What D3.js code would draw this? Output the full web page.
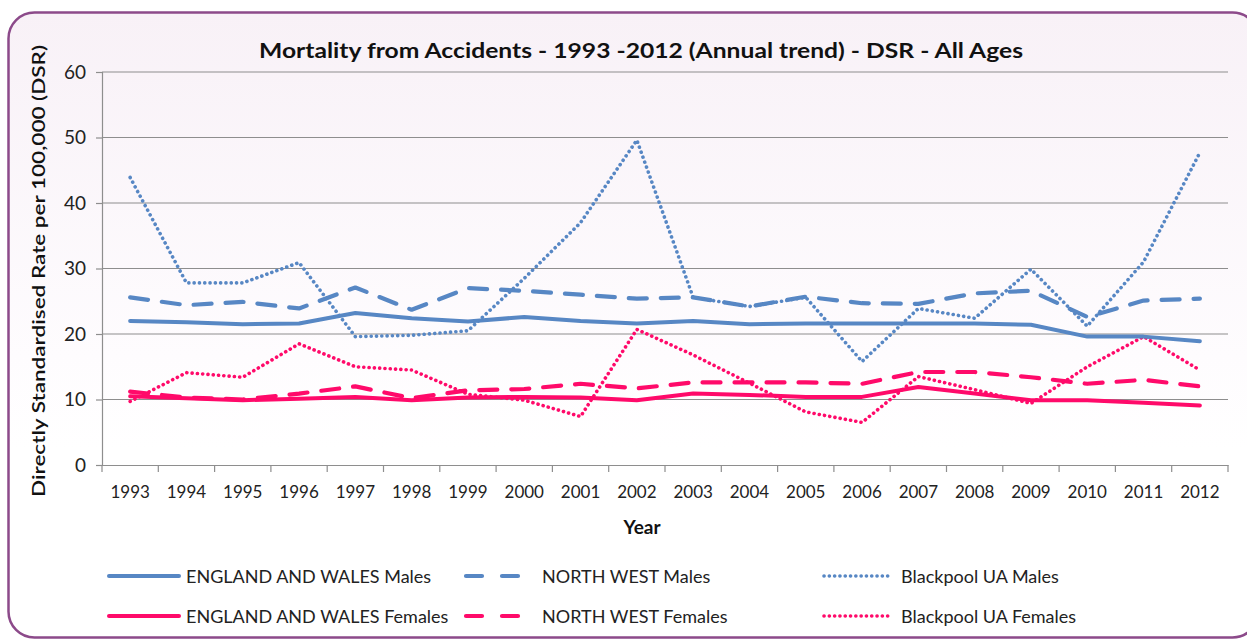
<!DOCTYPE html>
<html><head><meta charset="utf-8">
<script src="https://cdn.jsdelivr.net/npm/d3@7"></script>
<style>html,body{margin:0;padding:0;background:#fff;}svg{display:block;font-family:Lato,"Open Sans",sans-serif;}</style>
</head><body>
<svg id="c" width="1247" height="641"></svg>
<script>
const years = ["1993","1994","1995","1996","1997","1998","1999","2000","2001","2002","2003","2004","2005","2006","2007","2008","2009","2010","2011","2012"];
const ewMales   = [22.0,21.8,21.5,21.6,23.2,22.4,21.9,22.6,22.0,21.6,22.0,21.5,21.6,21.6,21.6,21.6,21.4,19.6,19.6,18.9];
const nwMales   = [25.6,24.4,24.9,23.9,27.1,23.7,27.0,26.6,26.0,25.4,25.6,24.2,25.7,24.7,24.6,26.2,26.6,22.6,25.1,25.4];
const bpMales   = [43.9,27.8,27.8,30.9,19.6,19.8,20.5,28.5,37.0,49.6,25.6,24.2,25.6,15.8,23.9,22.4,29.9,21.2,31.0,47.7];
const ewFemales = [10.5,10.2,9.9,10.1,10.4,9.9,10.3,10.4,10.3,9.9,10.9,10.7,10.4,10.4,11.9,10.9,9.9,9.9,9.5,9.1];
const nwFemales = [11.2,10.3,10.0,10.9,12.0,10.2,11.4,11.6,12.4,11.7,12.6,12.6,12.6,12.4,14.2,14.2,13.4,12.4,13.0,12.0];
const bpFemales = [9.7,14.1,13.4,18.5,15.0,14.5,10.8,9.9,7.4,20.7,16.8,12.5,8.1,6.5,13.5,11.5,9.4,15.0,19.6,14.5];
const yTicks = [0,10,20,30,40,50,60];
const seriesNames = ["ENGLAND AND WALES Males","NORTH WEST Males","Blackpool UA Males","ENGLAND AND WALES Females","NORTH WEST Females","Blackpool UA Females"];

const BLUE = "#5787c4", PINK = "#ff0a6a";
const styles = {
  solid:  {w:4,   dash:null,     cap:"round"},
  dashed: {w:4.2, dash:"18 14",  cap:"round"},
  dotted: {w:3.6, dash:"0.1 5.2",cap:"round"}
};
const series = [
  {name:seriesNames[0], vals:ewMales,   color:BLUE, st:"solid"},
  {name:seriesNames[1], vals:nwMales,   color:BLUE, st:"dashed"},
  {name:seriesNames[2], vals:bpMales,   color:BLUE, st:"dotted"},
  {name:seriesNames[3], vals:ewFemales, color:PINK, st:"solid"},
  {name:seriesNames[4], vals:nwFemales, color:PINK, st:"dashed"},
  {name:seriesNames[5], vals:bpFemales, color:PINK, st:"dotted"}
];

const svg = d3.select("#c");
const defs = svg.append("defs");
const g1 = defs.append("linearGradient").attr("id","bg").attr("x1",0).attr("y1",0).attr("x2",0).attr("y2",1);
g1.append("stop").attr("offset","0%").attr("stop-color","#f8f1f7");
g1.append("stop").attr("offset","55%").attr("stop-color","#fefcfe");
g1.append("stop").attr("offset","70%").attr("stop-color","#ffffff");

svg.append("rect").attr("x",8.5).attr("y",12.5).attr("width",1250).attr("height",625)
  .attr("rx",26).attr("ry",26).attr("fill","url(#bg)").attr("stroke","#8c4a8a").attr("stroke-width",2.5);

const L=102, R=1228, T=72, B=465;
const x = d3.scaleBand().domain(years).range([L,R]);
const y = d3.scaleLinear().domain([0,60]).range([B,T]);

// gridlines
svg.append("g").selectAll("line").data(yTicks.filter(d=>d>0)).join("line")
  .attr("x1",L).attr("x2",R).attr("y1",d=>y(d)).attr("y2",d=>y(d))
  .attr("stroke","#8e8e8e").attr("stroke-width",1.2);

// y axis
const ya = svg.append("g").attr("transform",`translate(${L},0)`)
  .call(d3.axisLeft(y).tickValues(yTicks).tickSize(6).tickPadding(10));
ya.select(".domain").attr("stroke","#8e8e8e").attr("stroke-width",1.2);
ya.selectAll(".tick line").attr("stroke","#8e8e8e").attr("stroke-width",1.2);
ya.selectAll("text").attr("font-size",19).attr("fill","#222").attr("font-family","Lato,sans-serif");

// x axis
const xa = svg.append("g").attr("transform",`translate(0,${B})`)
  .call(d3.axisBottom(x).tickSize(0).tickPadding(21));
xa.select(".domain").attr("stroke","#8e8e8e").attr("stroke-width",1.2);
xa.selectAll("text").attr("font-size",17).attr("fill","#222").attr("font-family","Lato,sans-serif");
const bounds = years.map(d=>x(d)).concat([R]);
svg.append("g").selectAll("line").data(bounds).join("line")
  .attr("x1",d=>d).attr("x2",d=>d).attr("y1",B).attr("y2",B+7)
  .attr("stroke","#8e8e8e").attr("stroke-width",1.2);

// lines
const line = d3.line().x((d,i)=>x(years[i])+x.bandwidth()/2).y(d=>y(d));
const order = [3,4,5,0,1,2];
svg.append("g").selectAll("path").data(order.map(i=>series[i])).join("path")
  .attr("d",d=>line(d.vals)).attr("fill","none")
  .attr("stroke",d=>d.color).attr("stroke-width",d=>styles[d.st].w)
  .attr("stroke-dasharray",d=>styles[d.st].dash).attr("stroke-linecap",d=>styles[d.st].cap)
  .attr("stroke-linejoin","round");

// title
svg.append("text").attr("x",641).attr("y",58).attr("text-anchor","middle")
  .attr("font-size",20).attr("font-weight","bold").attr("fill","#111")
  .attr("textLength",764).attr("lengthAdjust","spacingAndGlyphs")
  .text("Mortality from Accidents - 1993 -2012 (Annual trend) - DSR - All Ages");

// y label
svg.append("text").attr("transform","translate(45,271) rotate(-90)").attr("text-anchor","middle")
  .attr("font-size",18).attr("font-weight","600").attr("fill","#111")
  .attr("textLength",452).attr("lengthAdjust","spacingAndGlyphs")
  .text("Directly Standardised Rate per 100,000 (DSR)");

// x label
svg.append("text").attr("x",642).attr("y",534).attr("text-anchor","middle")
  .attr("font-size",19).attr("font-weight","bold").attr("fill","#111").text("Year");

// legend
const legPos = [
  {sx:109, ex:179, tx:186, ty:576},
  {sx:466, ex:520, tx:542, ty:576},
  {sx:824, ex:890, tx:901, ty:576},
  {sx:109, ex:179, tx:186, ty:616},
  {sx:466, ex:520, tx:542, ty:616},
  {sx:824, ex:890, tx:901, ty:616}
];
const legDash = {solid:null, dashed:"16 20", dotted:"0.1 5.2"};
const lg = svg.append("g").selectAll("g").data(series).join("g");
lg.append("line").attr("x1",(d,i)=>legPos[i].sx).attr("x2",(d,i)=>legPos[i].ex)
  .attr("y1",(d,i)=>legPos[i].ty).attr("y2",(d,i)=>legPos[i].ty)
  .attr("stroke",d=>d.color).attr("stroke-width",d=>styles[d.st].w)
  .attr("stroke-dasharray",d=>legDash[d.st]).attr("stroke-linecap","round");
lg.append("text").attr("x",(d,i)=>legPos[i].tx).attr("y",(d,i)=>legPos[i].ty+6.5)
  .attr("font-size",18).attr("fill","#222").attr("font-family","Lato,sans-serif").text(d=>d.name);
</script>
</body></html>
